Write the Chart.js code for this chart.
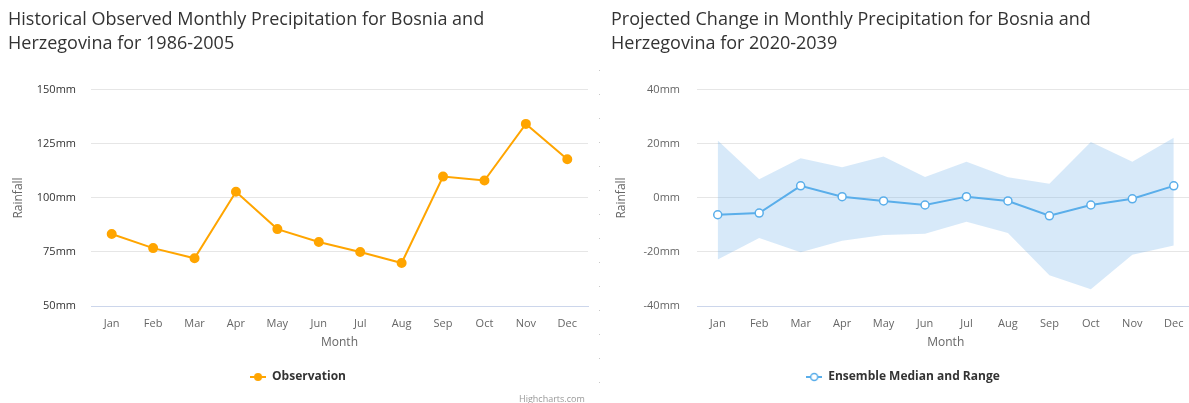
<!DOCTYPE html>
<html>
<head>
<meta charset="utf-8">
<script src="https://cdn.jsdelivr.net/npm/chart.js@4.4.1/dist/chart.umd.min.js"></script>
<style>
  html, body { margin: 0; padding: 0; background: #fff; overflow: hidden; }
  body { width: 1189px; height: 403px; position: relative; }
  #histBox { position: absolute; left: 0; top: 0; width: 600px; height: 403px; }
  #projBox { position: absolute; left: 600px; top: 0; width: 600px; height: 403px; }
  #sep {
    position: absolute; left: 599px; top: 70px; width: 1px; height: 333px;
    background: repeating-linear-gradient(to bottom, #c8c8c8 0, #c8c8c8 1px, transparent 1px, transparent 24px);
  }
  #credit {
    position: absolute; left: 519px; top: 392px; font: 9px "Open Sans", sans-serif; color: #999;
  }
</style>
</head>
<body>
<div id="histBox"><canvas id="chartHist" width="600" height="403"></canvas></div>
<div id="projBox"><canvas id="chartProj" width="600" height="403"></canvas></div>
<div id="sep"></div>
<div id="credit">Highcharts.com</div>
<script>
const months = ["Jan", "Feb", "Mar", "Apr", "May", "Jun", "Jul", "Aug", "Sep", "Oct", "Nov", "Dec"];

// historical observed rainfall 1986-2005 (mm)
const observed = [83.3, 76.8, 72.1, 102.9, 85.6, 79.6, 75.0, 69.9, 109.9, 108.1, 134.3, 117.9];

// projected change 2020-2039 (mm)
const medianChange = [-6.2, -5.6, 4.5, 0.5, -1.1, -2.6, 0.5, -1.1, -6.6, -2.6, -0.3, 4.5];
const rangeHigh = [21.3, 6.9, 14.7, 11.4, 15.4, 7.8, 13.4, 7.7, 5.3, 20.7, 13.4, 22.3];
const rangeLow = [-22.8, -14.8, -20.1, -15.8, -13.7, -13.2, -8.8, -13.0, -28.6, -33.8, -21.0, -17.6];

const histTicks = [50, 75, 100, 125, 150];
const projTicks = [-40, -20, 0, 20, 40];

const orange = "#ffa500";
const blue = "#5aaeea";
const font = "'Open Sans', sans-serif";

Chart.defaults.font.family = font;
Chart.defaults.animation = false;

// legend symbol: short line with a marker, like the original
function legendIcon(color, hollow) {
    const c = document.createElement("canvas");
    c.width = 16;
    c.height = 12;
    const ctx = c.getContext("2d");
    ctx.strokeStyle = color;
    ctx.lineWidth = 2;
    ctx.beginPath();
    ctx.moveTo(0, 6);
    ctx.lineTo(16, 6);
    ctx.stroke();
    ctx.beginPath();
    ctx.arc(8, 6, hollow ? 3.5 : 4, 0, Math.PI * 2);
    ctx.fillStyle = hollow ? "#fff" : color;
    ctx.fill();
    if (hollow) {
        ctx.lineWidth = 1.5;
        ctx.stroke();
    }
    return c;
}

function makeOptions(cfg) {
    return {
        responsive: false,
        layout: { padding: { left: cfg.padLeft, right: cfg.padRight, top: 0, bottom: 10 } },
        plugins: {
            title: {
                display: true,
                text: cfg.title,
                align: "start",
                color: "#333",
                font: { size: 18, weight: "normal", lineHeight: 1.333 },
                padding: { top: 8, bottom: 34 },
            },
            legend: {
                position: "bottom",
                labels: {
                    usePointStyle: true,
                    pointStyle: cfg.icon,
                    pointStyleWidth: 16,
                    padding: 10,
                    color: "#333",
                    font: { size: 12, weight: "bold" },
                    filter: (item) => item.datasetIndex === 0,
                },
            },
            tooltip: { enabled: false },
        },
        scales: {
            x: {
                offset: true,
                grid: { display: false },
                border: { color: "#ccd6eb" },
                ticks: { color: "#666", font: { size: 11 }, padding: 3 },
                title: { display: true, text: "Month", color: "#666", font: { size: 12 }, padding: { top: 4, bottom: 11 } },
                afterFit: (s) => { s.height = 55; },
            },
            y: {
                min: cfg.ticks[0],
                max: cfg.ticks[cfg.ticks.length - 1],
                afterBuildTicks: (s) => { s.ticks = cfg.ticks.map((v) => ({ value: v })); },
                grid: { color: "#e6e6e6", drawTicks: false },
                border: { display: false },
                ticks: {
                    color: cfg.tickColor,
                    font: { size: 11 },
                    padding: cfg.tickPad,
                    callback: (v) => v + "mm",
                },
                title: { display: true, text: "Rainfall", color: "#666", font: { size: 12 }, padding: { top: 3, bottom: 0 } },
                afterFit: (s) => { s.width = cfg.axisWidth; },
            },
        },
    };
}

new Chart(document.getElementById("chartHist"), {
    type: "line",
    data: {
        labels: months,
        datasets: [{
            label: "Observation",
            data: observed,
            borderColor: orange,
            backgroundColor: orange,
            borderWidth: 2,
            pointRadius: 4,
            pointBackgroundColor: orange,
            pointBorderColor: orange,
            tension: 0,
        }],
    },
    options: makeOptions({
        title: ["Historical Observed Monthly Precipitation for Bosnia and", "Herzegovina for 1986-2005"],
        padLeft: 8,
        padRight: 12,
        axisWidth: 83,
        tickPad: 15,
        tickColor: "#333",
        ticks: histTicks,
        icon: legendIcon(orange, false),
    }),
});

new Chart(document.getElementById("chartProj"), {
    type: "line",
    data: {
        labels: months,
        datasets: [{
            label: "Ensemble Median and Range",
            data: medianChange,
            borderColor: blue,
            backgroundColor: "#fff",
            borderWidth: 2,
            pointRadius: 4,
            pointBorderWidth: 1.5,
            pointBackgroundColor: "#fff",
            pointBorderColor: blue,
            tension: 0,
        }, {
            label: "Range high",
            data: rangeHigh,
            borderWidth: 0,
            pointRadius: 0,
            backgroundColor: "rgba(124, 181, 236, 0.3)",
            fill: "+1",
            tension: 0,
        }, {
            label: "Range low",
            data: rangeLow,
            borderWidth: 0,
            pointRadius: 0,
            backgroundColor: "rgba(124, 181, 236, 0.3)",
            fill: false,
            tension: 0,
        }],
    },
    options: makeOptions({
        title: ["Projected Change in Monthly Precipitation for Bosnia and", "Herzegovina for 2020-2039"],
        padLeft: 11,
        padRight: 5,
        axisWidth: 86,
        tickPad: 17,
        tickColor: "#666",
        ticks: projTicks,
        icon: legendIcon(blue, true),
    }),
});
</script>
</body>
</html>
